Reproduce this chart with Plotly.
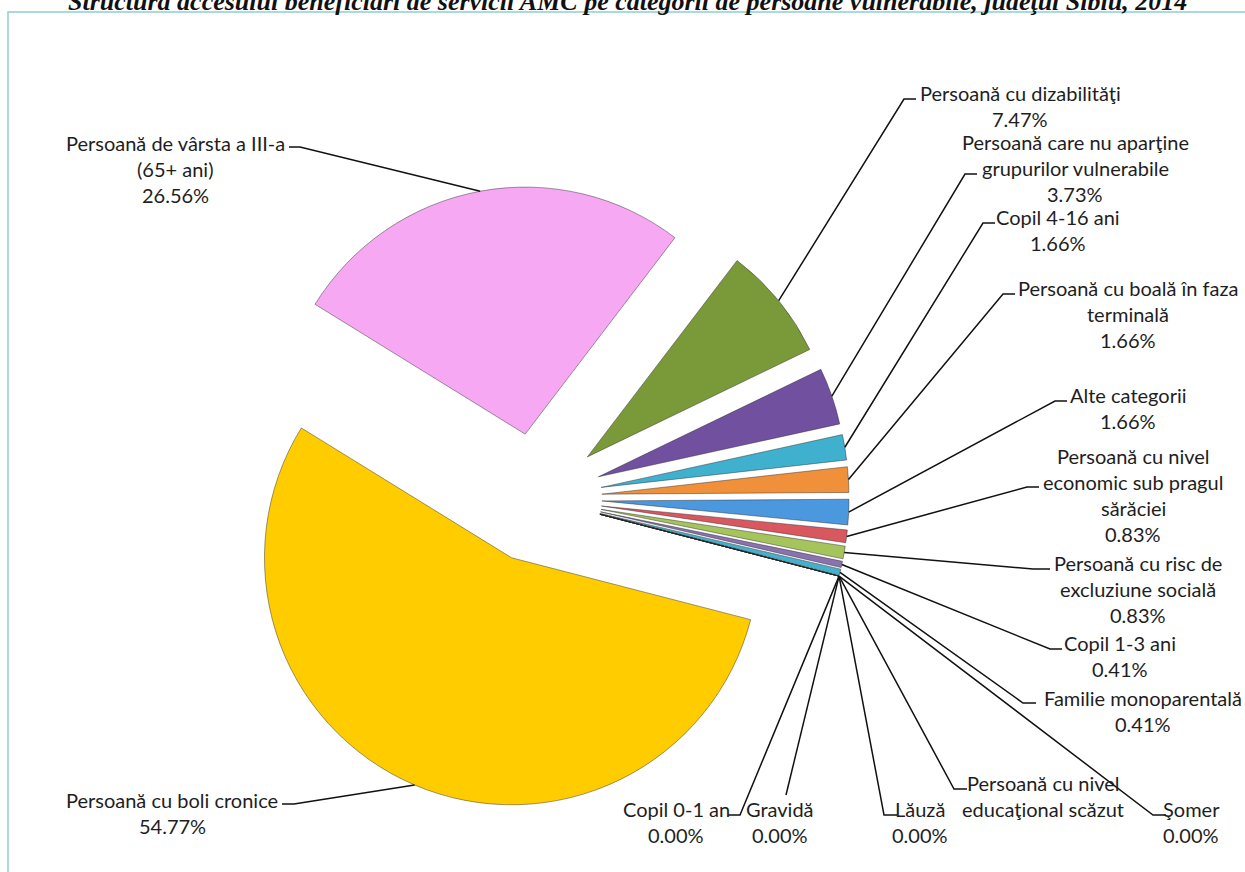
import math
import plotly.graph_objects as go

# --- data ---
categories = [
    "Persoană de vârsta a III-a (65+ ani)",
    "Persoană cu dizabilităţi",
    "Persoană care nu aparţine grupurilor vulnerabile",
    "Copil 4-16 ani",
    "Persoană cu boală în faza terminală",
    "Alte categorii",
    "Persoană cu nivel economic sub pragul sărăciei",
    "Persoană cu risc de excluziune socială",
    "Copil 1-3 ani",
    "Familie monoparentală",
    "Copil 0-1 an",
    "Gravidă",
    "Lăuză",
    "Persoană cu nivel educaţional scăzut",
    "Şomer",
    "Persoană cu boli cronice",
]
shares = [26.56, 7.47, 3.73, 1.66, 1.66, 1.66, 0.83, 0.83, 0.41, 0.41,
          0.00, 0.00, 0.00, 0.00, 0.00, 54.77]

# how each label wraps in the picture
label_wrap = [
    ["Persoană de vârsta a III-a", "(65+ ani)"],
    ["Persoană cu dizabilităţi"],
    ["Persoană care nu aparţine", "grupurilor vulnerabile"],
    ["Copil 4-16 ani"],
    ["Persoană cu boală în faza", "terminală"],
    ["Alte categorii"],
    ["Persoană cu nivel", "economic sub pragul", "sărăciei"],
    ["Persoană cu risc de", "excluziune socială"],
    ["Copil 1-3 ani"],
    ["Familie monoparentală"],
    ["Copil 0-1 an"],
    ["Gravidă"],
    ["Lăuză"],
    ["Persoană cu nivel", "educaţional scăzut"],
    ["Şomer"],
    ["Persoană cu boli cronice"],
]
show_pct = [True] * 13 + [False, True, True]

slice_colors = [
    "#F7A8F3", "#7A9A3A", "#7150A0", "#3FB1CF", "#F0903A", "#4B98DE",
    "#D95860", "#A6C45C", "#8A72B0", "#46B0CC",
    "#F5A65B", "#8CB3E0", "#E37E80", "#C0D98A", "#A894C7",
    "#FFCC00",
]

TITLE = ("Structura accesului beneficiari de servicii AMC pe categorii de "
         "persoane vulnerabile, judeţul Sibiu, 2014")

# --- layout (pixels from the top-left of the 1245x872 page) ---
W, H = 1245, 872
CX, CY = 537, 498      # pie centre
OUTER = 312            # radius incl. explosion
PULL = 0.263
ROTATION = -58.3
LINE_H = 26

# text centre x, first line y, elbow x, elbow y, stub end x
label_layout = [
    (176, 143, 300, 147, 289),
    (1020, 93, 904, 99, 916),
    (1075, 142, 965, 174, 977),
    (1058, 217, 983, 223, 995),
    (1128, 288, 1003, 294, 1015),
    (1128, 395, 1055, 401, 1067),
    (1133, 456, 1027, 487, 1039),
    (1138, 563, 1033, 569, 1050),
    (1120, 643, 1050, 649, 1062),
    (1143, 698, 1023, 703, 1036),
    (676, 809, 740, 815, 728),
    (780, 809, 786, 795, 786),
    (920, 809, 884, 815, 897),
    (1043, 783, 954, 789, 967),
    (1191, 809, 1153, 815, 1166),
    (172, 800, 294, 804, 282),
]


def px(x):
    return x / W


def py(y):
    return 1 - y / H


fig = go.Figure(go.Pie(
    labels=categories,
    values=shares,
    sort=False,
    direction="clockwise",
    rotation=ROTATION,
    pull=PULL,
    textinfo="none",
    marker=dict(colors=slice_colors, line=dict(color="rgba(40,40,40,0.45)", width=1)),
    domain=dict(x=[px(CX - OUTER), px(CX + OUTER)], y=[py(CY + OUTER), py(CY - OUTER)]),
    hovertemplate="%{label}<br>%{value:.2f}%<extra></extra>",
    showlegend=False,
))

annotations = []
shapes = []
total = sum(shares)
cum = 0.0
for i, v in enumerate(shares):
    mid = math.radians(ROTATION + 360 * (cum + v / 2) / total)
    cum += v
    ax = CX + OUTER * math.sin(mid)
    ay = CY - OUTER * math.cos(mid)
    tx, ty, ex, ey, sx = label_layout[i]

    shapes.append(dict(
        type="path", xref="paper", yref="paper",
        path=f"M {px(ax)} {py(ay)} L {px(ex)} {py(ey)} L {px(sx)} {py(ey)}",
        line=dict(color="#111111", width=1.5),
    ))

    lines = list(label_wrap[i])
    if show_pct[i]:
        lines.append(f"{v:.2f}%")
    for k, line in enumerate(lines):
        annotations.append(dict(
            x=px(tx), y=py(ty + k * LINE_H), xref="paper", yref="paper",
            text=line, showarrow=False, xanchor="center", yanchor="middle",
            font=dict(family="Lato, Calibri, sans-serif", size=20, color="#1e1e1e"),
        ))

# title, cut off by the top of the page as in the source
annotations.append(dict(
    x=0.504, y=py(12), xref="paper", yref="paper", yshift=-6,
    text=f"<b><i>{TITLE}</i></b>", showarrow=False,
    xanchor="center", yanchor="bottom",
    font=dict(family="Liberation Serif, Times New Roman, serif", size=26, color="#111111"),
))

# thin frame
shapes.append(dict(
    type="rect", xref="paper", yref="paper",
    x0=px(8), x1=1.05, y0=-0.05, y1=py(12),
    line=dict(color="#8ECDD5", width=1.5), fillcolor="rgba(0,0,0,0)",
))

fig.update_layout(
    width=W, height=H,
    margin=dict(l=0, r=0, t=0, b=0),
    paper_bgcolor="white",
    plot_bgcolor="white",
    showlegend=False,
    annotations=annotations,
    shapes=shapes,
)

fig.write_html("out.html", config={"displayModeBar": False},
               post_script="document.body.style.margin='0';")
